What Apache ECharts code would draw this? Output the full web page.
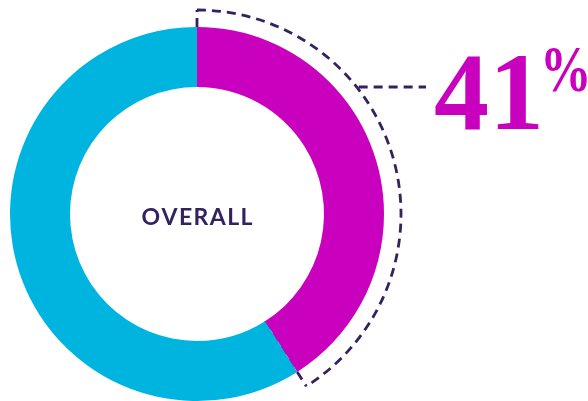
<!DOCTYPE html>
<html>
<head>
<meta charset="utf-8">
<script src="https://cdn.jsdelivr.net/npm/echarts@6/dist/echarts.min.js"></script>
<style>
  html, body { margin: 0; padding: 0; background: #ffffff; }
  #chart { width: 588px; height: 401px; }
</style>
</head>
<body>
<div id="chart"></div>
<script>
// Share of respondents, overall
const categories = ['Yes', 'No'];
const values = [41, 59];
const centerLabel = 'OVERALL';

const colors = ['#c900bd', '#00b4e0'];
const outline = '#33225e';

const cx = 197, cy = 214;
const rInner = 127, rOuter = 187, rDash = 204;

const total = values.reduce((a, b) => a + b, 0);
const share = values[0] / total;
const pct = Math.round(share * 100);

// angle of the end of the highlighted slice (zrender: radians, 0 = +x, clockwise)
const a0 = -Math.PI / 2;
const a1 = a0 + share * Math.PI * 2;
const pt = (r, a) => [cx + r * Math.cos(a), cy + r * Math.sin(a)];

// where the leader line leaves the dashed arc
const leaderY = 87;
const leaderX = cx + Math.sqrt(rDash * rDash - (cy - leaderY) * (cy - leaderY));

const dashStyle = { stroke: outline, lineWidth: 2.8, lineDash: [9, 6], fill: null };

// lightly tracked caps for the centre label
const tracked = centerLabel.split('').join('\u200A');

const chart = echarts.init(document.getElementById('chart'), null, { renderer: 'canvas' });
chart.setOption({
  animation: false,
  series: [{
    type: 'pie',
    center: [cx, cy],
    radius: [rInner, rOuter],
    startAngle: 90,
    clockwise: true,
    silent: true,
    label: { show: false },
    labelLine: { show: false },
    data: categories.map((c, i) => ({ name: c, value: values[i], itemStyle: { color: colors[i] } }))
  }],
  graphic: [
    {
      type: 'text',
      x: cx, y: cy + 4,
      style: {
        text: tracked,
        fill: outline,
        fontFamily: 'Lato',
        fontWeight: 'bold',
        fontSize: 23,
        align: 'center',
        verticalAlign: 'middle'
      }
    },
    {
      type: 'arc',
      shape: { cx: cx, cy: cy, r: rDash, startAngle: a0, endAngle: a1, clockwise: true },
      style: dashStyle
    },
    {
      type: 'line',
      shape: { x1: pt(rInner, a0)[0], y1: pt(rInner, a0)[1], x2: pt(rDash, a0)[0], y2: pt(rDash, a0)[1] },
      style: dashStyle
    },
    {
      type: 'line',
      shape: { x1: pt(rInner, a1)[0], y1: pt(rInner, a1)[1], x2: pt(rDash, a1)[0], y2: pt(rDash, a1)[1] },
      style: dashStyle
    },
    {
      type: 'line',
      shape: { x1: leaderX + 2, y1: leaderY, x2: 426, y2: leaderY },
      style: dashStyle
    },
    {
      type: 'text',
      x: 434, y: 156,
      style: {
        text: String(pct),
        fill: colors[0],
        fontFamily: 'Liberation Serif',
        fontWeight: 'bold',
        fontSize: 110,
        align: 'left',
        verticalAlign: 'bottom'
      }
    },
    {
      type: 'text',
      x: 540, y: 41,
      scaleX: 0.78,
      style: {
        text: '%',
        fill: colors[0],
        fontFamily: 'Liberation Serif',
        fontWeight: 'bold',
        fontSize: 66,
        align: 'left',
        verticalAlign: 'top'
      }
    }
  ]
});
</script>
</body>
</html>
